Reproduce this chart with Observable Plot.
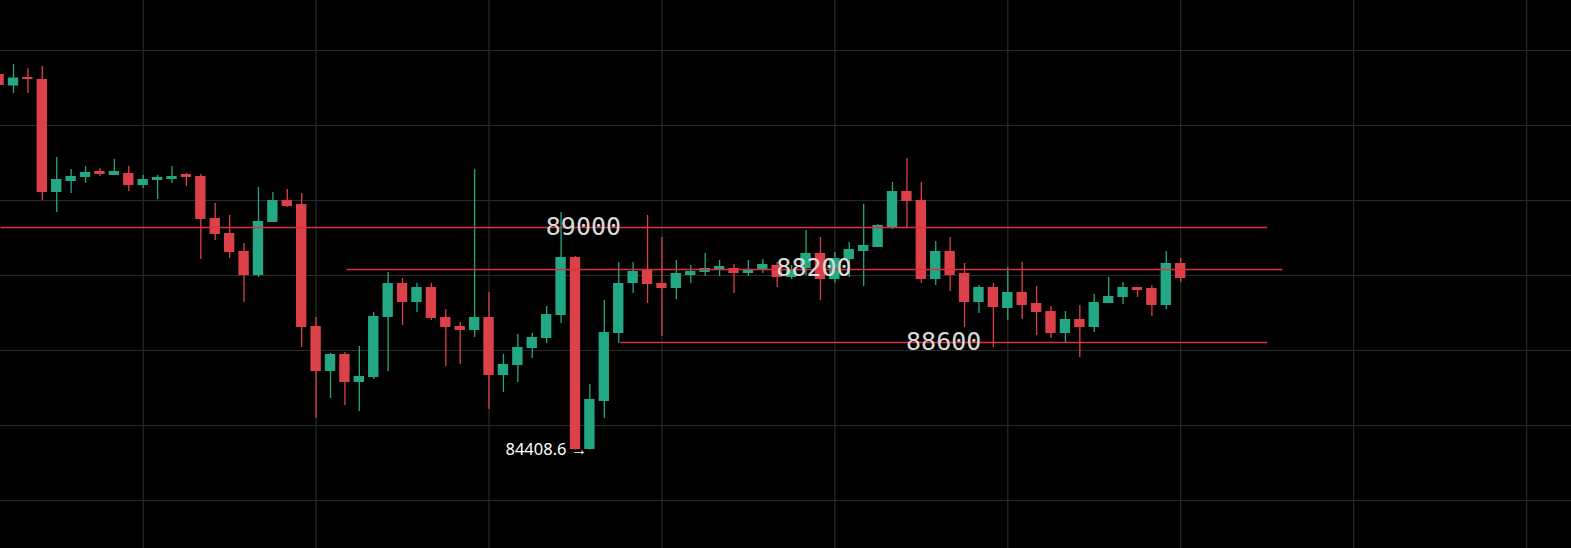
<!DOCTYPE html>
<html>
<head>
<meta charset="utf-8">
<script src="https://cdn.jsdelivr.net/npm/d3@7"></script>
<script src="https://cdn.jsdelivr.net/npm/@observablehq/plot@0.6"></script>
<style>
  html, body { margin: 0; padding: 0; background: #000; overflow: hidden; }
</style>
</head>
<body>
<div id="chart"></div>
<script>
// candle index (bar number)
const bars = d3.range(-1, 82);
const open = [91920, 91690, 91860, 91820, 89560, 89780, 89860, 89980, 89900, 89940,
  89700, 89800, 89820, 89920, 89880, 89040, 88740, 88380, 87900, 88960,
  89400, 89320, 86880, 85980, 86320, 85760, 85860, 87060, 87740, 87360,
  87660, 87060, 86880, 86800, 87060, 85900, 86100, 86440, 86640, 87100,
  88260, 84420, 85380, 86740, 87740, 88020, 87740, 87640, 87900, 87960,
  88020, 88040, 87940, 88020, 88100, 87860, 88040, 88340, 87820, 88220,
  88380, 88460, 88860, 89580, 89400, 87820, 88380, 87940, 87360, 87660,
  87240, 87560, 87340, 87180, 86740, 87020, 86860, 87340, 87460, 87660,
  87640, 87300, 88140];
const high = [91960, 92120, 92040, 92080, 90260, 90020, 90080, 90040, 90220, 90080,
  89900, 89900, 90080, 89940, 89920, 89340, 89100, 88540, 89660, 89560,
  89620, 89540, 87060, 86340, 86360, 86480, 87160, 87960, 87840, 87740,
  87740, 87220, 86960, 90020, 87560, 86320, 86720, 86740, 87280, 89160,
  88280, 85720, 87400, 88160, 88160, 89100, 88660, 88200, 88100, 88340,
  88200, 88120, 88200, 88220, 88160, 88100, 88800, 88660, 88360, 88560,
  89320, 88920, 89760, 90240, 89760, 88580, 88660, 88140, 87700, 87740,
  88060, 88160, 87680, 87280, 87180, 87300, 87520, 87860, 87760, 87660,
  87700, 88380, 88240];
const low = [91660, 91540, 91540, 89400, 89160, 89540, 89740, 89880, 89900, 89580,
  89640, 89420, 89740, 89680, 88220, 88600, 88240, 87360, 87860, 88960,
  89260, 86460, 85040, 85440, 85300, 85180, 85820, 85980, 86900, 87160,
  87000, 86080, 86120, 86660, 85220, 85560, 85760, 86240, 86540, 86940,
  84408.6, 84410, 85040, 86540, 87540, 87340, 86680, 87420, 87740, 87880,
  87880, 87540, 87880, 87940, 87660, 87820, 87900, 87400, 87740, 87860,
  87680, 88460, 88820, 88860, 87740, 87700, 87580, 86860, 87140, 86460,
  87000, 87020, 86700, 86640, 86560, 86260, 86760, 87340, 87320, 87460,
  87080, 87220, 87760];
const close = [91700, 91850, 91820, 89560, 89820, 89880, 89960, 89920, 89980, 89700,
  89820, 89860, 89880, 89860, 89020, 88720, 88360, 87900, 88980, 89400,
  89280, 86860, 85980, 86320, 85760, 85880, 87080, 87740, 87360, 87660,
  87040, 86860, 86800, 87060, 85900, 86120, 86460, 86660, 87120, 88260,
  84420, 85420, 86760, 87740, 87980, 87720, 87640, 87940, 87980, 88040,
  88080, 87940, 88000, 88120, 87860, 88000, 88340, 87820, 88240, 88420,
  88500, 88900, 89580, 89380, 87820, 88380, 87900, 87360, 87660, 87260,
  87560, 87300, 87160, 86740, 87020, 86860, 87360, 87480, 87660, 87600,
  87300, 88140, 87840];

// drawn horizontal levels: price, start bar, end bar, label, label bar, label price
const levelPrice = [88860, 88020, 86560];
const levelStart = [-0.9, 23.1, 42.1];
const levelEnd = [87, 88.05, 87];
const levelLabel = ["89000", "88200", "88600"];
const levelLabelBar = [39.55, 55.55, 64.55];
const levelLabelPrice = [88880, 88060, 86580];

// low marker
const lowText = "84408.6 →";
const lowBar = 39.82;
const lowPrice = 84420;

// grid
const gridBars = [9, 21, 33, 45, 57, 69, 81, 93, 105];
const gridPrices = [92400, 90900, 89400, 87900, 86400, 84900, 83400];

const UP = "#22a884", DOWN = "#dc4149", LEVEL = "#d8333c";

const candles = bars.map((b, k) => ({
  bar: b, open: open[k], high: high[k], low: low[k], close: close[k],
  up: close[k] >= open[k]
}));
const levels = levelPrice.map((p, k) => ({
  price: p, start: levelStart[k], end: levelEnd[k],
  label: levelLabel[k], lbar: levelLabelBar[k], lprice: levelLabelPrice[k]
}));

const chart = Plot.plot({
  width: 1571,
  height: 548,
  margin: 0,
  style: { background: "#000" },
  x: { domain: [-0.902, 108.12], axis: null },
  y: { domain: [82440, 93400], axis: null },
  marks: [
    Plot.ruleX(gridBars, { x: d => d, stroke: "#2a2a2a", strokeWidth: 1.2 }),
    Plot.ruleY(gridPrices, { y: d => d, stroke: "#2a2a2a", strokeWidth: 1.2 }),
    Plot.ruleX(candles, {
      x: "bar", y1: "low", y2: "high",
      stroke: d => d.up ? UP : DOWN, strokeWidth: 1.3
    }),
    Plot.rect(candles, {
      x1: d => d.bar - 0.36, x2: d => d.bar + 0.36,
      y1: d => Math.min(d.open, d.close), y2: d => Math.max(d.open, d.close),
      fill: d => d.up ? UP : DOWN
    }),
    Plot.link(levels, {
      x1: "start", x2: "end", y1: "price", y2: "price",
      stroke: LEVEL, strokeWidth: 1.5
    }),
    Plot.text(levels, {
      x: "lbar", y: "lprice", text: "label",
      fill: "#d9d9d9", fontSize: 25, fontFamily: "DejaVu Sans Mono",
      textAnchor: "middle", lineAnchor: "middle"
    }),
    Plot.text([lowText], {
      x: () => lowBar, y: () => lowPrice, text: d => d,
      fill: "#ffffff", fontSize: 16.5, fontFamily: "Noto Sans",
      textAnchor: "end", lineAnchor: "middle"
    })
  ]
});
document.getElementById("chart").appendChild(chart);
</script>
</body>
</html>
